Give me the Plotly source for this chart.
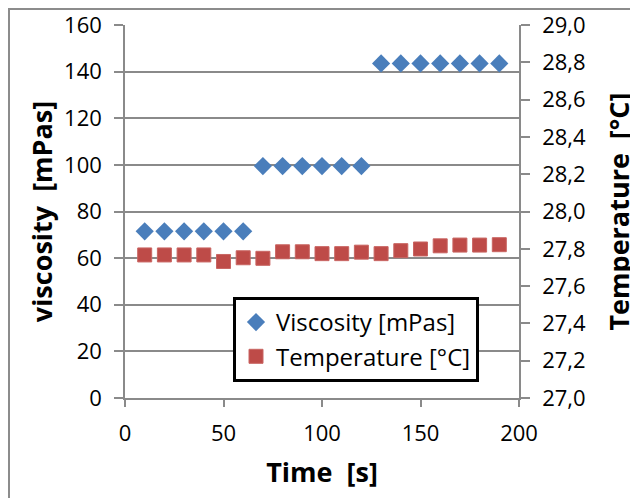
import plotly.graph_objects as go

time_s = [10, 20, 30, 40, 50, 60, 70, 80, 90, 100, 110, 120, 130, 140, 150, 160, 170, 180, 190]
visc_time = [10, 20, 30, 40, 50, 60, 70, 80, 90, 100, 110, 120, 130, 140, 150, 160, 170, 180, 190]
viscosity = [71.5, 71.5, 71.5, 71.5, 71.5, 71.5,
             99.5, 99.5, 99.5, 99.5, 99.5, 99.5,
             143.5, 143.5, 143.5, 143.5, 143.5, 143.5, 143.5]
temperature = [27.767, 27.767, 27.767, 27.767, 27.732, 27.752, 27.749, 27.784, 27.784, 27.774,
               27.774, 27.782, 27.774, 27.790, 27.799, 27.816, 27.820, 27.820, 27.822]

FONT = "Open Sans"
GRID = "#8a8a8a"

W, H = 630, 490
ML, MT, PW, PH = 117, 17, 394, 373


def px_x(x):
    return (x - ML) / PW


def px_y(y):
    return (MT + PH - y) / PH


fig = go.Figure()
fig.add_trace(go.Scatter(
    x=visc_time, y=viscosity, mode="markers", name="Viscosity [mPas]",
    legendgroup="v",
    marker=dict(symbol="diamond", size=14, color="#4A7EBB", line=dict(width=0)),
))
fig.add_trace(go.Scatter(
    x=time_s, y=temperature, mode="markers", name="Temperature [°C]",
    legendgroup="t", yaxis="y2",
    marker=dict(symbol="square", size=14, color="#BE4B48", line=dict(width=1, color="#C96562")),
))

fig.update_layout(
    width=W, height=H,
    margin=dict(l=ML, r=W - ML - PW, t=MT, b=H - MT - PH, autoexpand=False),
    paper_bgcolor="white", plot_bgcolor="white",
    separators=",.",
    font=dict(family=FONT, size=21, color="#000000"),
    showlegend=True,
    legend=dict(
        x=px_x(225), y=px_y(289), xanchor="left", yanchor="top",
        bordercolor="#000000", borderwidth=3, bgcolor="white",
        font=dict(family=FONT, size=24, color="#000000"),
        traceorder="grouped", tracegroupgap=0,
        entrywidth=200,
    ),
    xaxis=dict(
        range=[0, 200], dtick=50, tick0=0, automargin=False,
        showline=True, linecolor=GRID, linewidth=1.5,
        ticks="outside", ticklen=7, tickcolor=GRID, tickwidth=1.5,
        showgrid=False, zeroline=False,
        ticklabelstandoff=8,
        tickfont=dict(size=22),
        title=dict(text="Time\u00a0\u00a0[s]", font=dict(size=27, weight="bold"), standoff=17),
    ),
    yaxis=dict(
        range=[0, 160], dtick=20, tick0=0, automargin=False,
        showline=True, linecolor=GRID, linewidth=1.5,
        ticks="outside", ticklen=9, tickcolor=GRID, tickwidth=1.5,
        showgrid=True, gridcolor=GRID, gridwidth=1.5, zeroline=False,
        ticklabelstandoff=8,
        tickfont=dict(size=22),
        title=dict(text="viscosity\u00a0\u00a0[mPas]", font=dict(size=27, weight="bold"), standoff=4),
    ),
    yaxis2=dict(
        range=[27, 29], dtick=0.2, tick0=27, tickformat=".1f", automargin=False,
        overlaying="y", side="right", anchor="x",
        showline=True, linecolor=GRID, linewidth=1.5,
        ticks="outside", ticklen=9, tickcolor=GRID, tickwidth=1.5,
        showgrid=False, zeroline=False,
        ticklabelstandoff=8,
        tickfont=dict(size=22),
        title=dict(text="Temperature\u00a0\u00a0[°C]", font=dict(size=27, weight="bold"), standoff=25),
    ),
    shapes=[dict(
        type="rect", xref="paper", yref="paper",
        x0=px_x(1), x1=px_x(660),
        y0=px_y(520), y1=px_y(1),
        line=dict(color="#8c8c8c", width=2), fillcolor="rgba(0,0,0,0)", layer="below",
    )],
)

fig.write_html("out.html")
